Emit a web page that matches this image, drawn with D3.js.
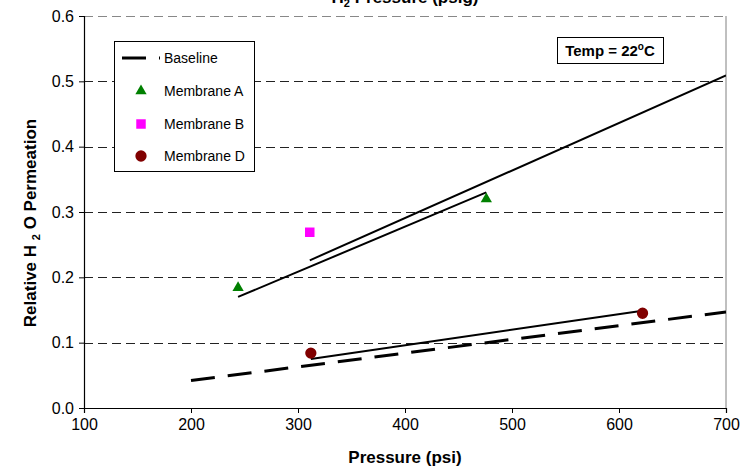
<!DOCTYPE html>
<html>
<head>
<meta charset="utf-8">
<script src="https://cdn.jsdelivr.net/npm/d3@7/dist/d3.min.js"></script>
<style>
  html, body { margin: 0; padding: 0; background: #fff; }
  svg { display: block; font-family: "Liberation Sans", Arial, sans-serif; }
</style>
</head>
<body>
<svg id="chart" width="750" height="471"></svg>
<script>
// Axis ticks
const xTicks = [100, 200, 300, 400, 500, 600, 700];
const yTicks = [0.0, 0.1, 0.2, 0.3, 0.4, 0.5, 0.6];

// Baseline (dashed) relation
const baseline = [[200, 0.042], [700, 0.147]];

// Measured points per membrane
const membraneA = [[244, 0.184], [476, 0.320]];
const membraneB = [[311, 0.269]];
const membraneD = [[312, 0.084], [622, 0.145]];

// Fitted solid lines
const fitA = [[244, 0.170], [476, 0.330]];
const fitB = [[311, 0.226], [700, 0.509]];
const fitD = [[312, 0.075], [622, 0.149]];

const legendItems = ["Baseline", "Membrane A", "Membrane B", "Membrane D"];

const svg = d3.select("#chart");
const m = { left: 84, right: 726, top: 16, bottom: 408 };

const x = d3.scaleLinear().domain([100, 700]).range([m.left, m.right]);
const y = d3.scaleLinear().domain([0, 0.6]).range([m.bottom, m.top]);

// right frame edge
svg.append("line")
  .attr("x1", m.right).attr("x2", m.right)
  .attr("y1", m.top).attr("y2", m.bottom)
  .attr("stroke", "#808080").attr("stroke-width", 1);

// horizontal dashed gridlines
svg.append("g").selectAll("line")
  .data(yTicks.filter(d => d > 0))
  .join("line")
  .attr("x1", m.left).attr("x2", m.right)
  .attr("y1", d => Math.round(y(d)) + 0.5).attr("y2", d => Math.round(y(d)) + 0.5)
  .attr("stroke", d => d === 0.6 ? "#888" : "#222")
  .attr("stroke-width", 1)
  .attr("stroke-dasharray", "9,5");

// axes
const fmt = d3.format(".1f");
const gx = svg.append("g")
  .attr("transform", `translate(0,${m.bottom})`)
  .call(d3.axisBottom(x).tickValues(xTicks).tickSize(5).tickPadding(6).tickFormat(d3.format("d")));
const gy = svg.append("g")
  .attr("transform", `translate(${m.left},0)`)
  .call(d3.axisLeft(y).tickValues(yTicks).tickSize(5).tickPadding(5).tickFormat(fmt));
[gx, gy].forEach(g => {
  g.select(".domain").attr("stroke", "#000").attr("stroke-width", 1.2);
  g.selectAll(".tick line").attr("stroke", "#000");
  g.selectAll(".tick text").attr("fill", "#000")
    .style("font-size", "16px").style("font-family", "'Liberation Sans', Arial, sans-serif");
});

const line = d3.line().x(d => x(d[0])).y(d => y(d[1]));

// clip data lines to plot area
svg.append("clipPath").attr("id", "plotClip")
  .append("rect").attr("x", m.left).attr("y", m.top)
  .attr("width", m.right - m.left).attr("height", m.bottom - m.top);

const plot = svg.append("g").attr("clip-path", "url(#plotClip)");

plot.append("path").datum(baseline).attr("d", line)
  .attr("fill", "none").attr("stroke", "#000").attr("stroke-width", 3)
  .attr("stroke-dasharray", "24,13");

[fitA, fitB, fitD].forEach(f => {
  plot.append("path").datum(f).attr("d", line)
    .attr("fill", "none").attr("stroke", "#000").attr("stroke-width", 2);
});

const tri = d3.symbol().type(d3.symbolTriangle).size(55);
const sq = d3.symbol().type(d3.symbolSquare).size(90);
const circ = d3.symbol().type(d3.symbolCircle).size(100);

svg.append("g").selectAll("path").data(membraneA).join("path")
  .attr("d", tri).attr("transform", d => `translate(${x(d[0])},${y(d[1])})`)
  .attr("fill", "#008000");
svg.append("g").selectAll("path").data(membraneB).join("path")
  .attr("d", sq).attr("transform", d => `translate(${x(d[0])},${y(d[1])})`)
  .attr("fill", "#FF00FF");
svg.append("g").selectAll("path").data(membraneD).join("path")
  .attr("d", circ).attr("transform", d => `translate(${x(d[0])},${y(d[1])})`)
  .attr("fill", "#800000");

// legend
const lg = svg.append("g");
lg.append("rect").attr("x", 114.5).attr("y", 41.5).attr("width", 140).attr("height", 130)
  .attr("fill", "#fff").attr("stroke", "#000").attr("stroke-width", 1);
const rowY = [58, 91, 124, 156];
lg.append("line").attr("x1", 122).attr("x2", 160).attr("y1", rowY[0]).attr("y2", rowY[0])
  .attr("stroke", "#000").attr("stroke-width", 3).attr("stroke-dasharray", "24,13");
lg.append("path").attr("d", tri).attr("transform", `translate(141,${rowY[1]})`).attr("fill", "#008000");
lg.append("path").attr("d", sq).attr("transform", `translate(141,${rowY[2]})`).attr("fill", "#FF00FF");
lg.append("path").attr("d", circ).attr("transform", `translate(141,${rowY[3]})`).attr("fill", "#800000");
lg.selectAll("text.lab").data(legendItems).join("text").attr("class", "lab")
  .attr("x", 164).attr("y", (d, i) => rowY[i] + 5)
  .style("font-size", "14px").text(d => d);

// temperature note
svg.append("rect").attr("x", 557.5).attr("y", 37.5).attr("width", 106).attr("height", 26)
  .attr("fill", "#fff").attr("stroke", "#000").attr("stroke-width", 1);
const tt = svg.append("text").attr("x", 610).attr("y", 56).attr("text-anchor", "middle")
  .style("font-size", "15px").style("font-weight", "bold");
tt.append("tspan").text("Temp = 22");
tt.append("tspan").attr("dy", -6).style("font-size", "10px").text("o");
tt.append("tspan").attr("dy", 6).text("C");

// secondary axis title along the top edge
const topTitle = svg.append("text").attr("x", 405).attr("y", 3).attr("text-anchor", "middle")
  .style("font-size", "17px").style("font-weight", "bold");
topTitle.append("tspan").text("H");
topTitle.append("tspan").attr("dy", 4).style("font-size", "11px").text("2");
topTitle.append("tspan").attr("dy", -4).text(" Pressure (psig)");

// bottom axis title
svg.append("text").attr("x", 405).attr("y", 463).attr("text-anchor", "middle")
  .style("font-size", "17px").style("font-weight", "bold").text("Pressure (psi)");

// left axis title
const yl = svg.append("text").attr("transform", "translate(36,223) rotate(-90)")
  .attr("text-anchor", "middle").style("font-size", "17px").style("font-weight", "bold");
yl.append("tspan").text("Relative H ");
yl.append("tspan").attr("dy", 4).style("font-size", "11px").text("2");
yl.append("tspan").attr("dy", -4).text(" O Permeation");
</script>
</body>
</html>
